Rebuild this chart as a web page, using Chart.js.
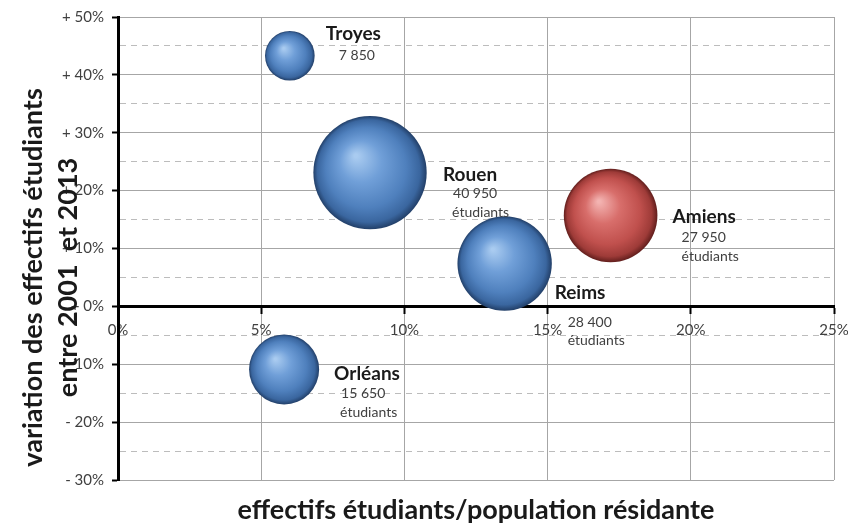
<!DOCTYPE html>
<html lang="fr">
<head>
<meta charset="utf-8">
<title>Effectifs étudiants</title>
<script src="https://cdn.jsdelivr.net/npm/chart.js@4/dist/chart.umd.min.js"></script>
<style>
  html, body { margin: 0; padding: 0; background: #fff; }
  #wrap { width: 848px; height: 526px; position: relative; }
</style>
</head>
<body>
<div id="wrap"><canvas id="bubbleChart"></canvas></div>
<script>
// ============================================================
// Data
// ============================================================
const CITIES = ['Troyes', 'Rouen', 'Reims', 'Amiens', 'Orléans'];
const STUDENT_SHARE = [6.0, 8.8, 13.5, 17.2, 5.8];       // % of resident population
const STUDENT_GROWTH = [43.3, 23.1, 7.4, 15.7, -10.9];   // % change 2001 -> 2013
const STUDENT_COUNTS = [7850, 40950, 28400, 27950, 15650];
const SHOW_UNIT = [false, true, true, true, true];        // Troyes has no "étudiants" line
const HIGHLIGHTED = [false, false, false, true, false];   // Amiens drawn in red

const X_TICKS = [0, 5, 10, 15, 20, 25];
const Y_TICKS = [-30, -20, -10, 0, 10, 20, 30, 40, 50];

// ============================================================
// Styling
// ============================================================
const FONT = 'Lato, "Open Sans", sans-serif';
const TEXT_DARK = '#1a1a1a';
const TEXT_GREY = '#404040';
const BUBBLE_SCALE = 0.28; // px of radius per sqrt(student)

const SPHERE = {
  blue: ['#a9cbf0', '#709fd8', '#4f80bd', '#3a669f', '#223f68'],
  red:  ['#f3b3b1', '#d86e6b', '#c0504d', '#9e3b38', '#611e1c']
};

// Label offsets from bubble centre, in px: [dx, dy]
const LABEL_OFFSETS = [
  { name: [36, -22], count: [49, 0], unit: [49, 19] },
  { name: [73, 2], count: [83, 21], unit: [82, 40] },
  { name: [50, 29], count: [63, 59], unit: [63, 77] },
  { name: [62, 1], count: [71, 22], unit: [71, 41] },
  { name: [50, 4], count: [57, 24], unit: [56, 43] }
];

Chart.defaults.font.family = FONT;

const formatCount = (n) => String(n).replace(/\B(?=(\d{3})+(?!\d))/g, ' ');
const formatGrowth = (v) => (v >= 0 ? '+ ' : '- ') + Math.abs(v) + '%';

// Radial gradient that fakes the glossy 3D sphere look
function sphereFill(ctx) {
  const palette = HIGHLIGHTED[ctx.dataIndex] ? SPHERE.red : SPHERE.blue;
  const chart = ctx.chart;
  if (ctx.type !== 'data' || !chart.chartArea) return palette[2];
  const cx = chart.scales.x.getPixelForValue(ctx.raw.x);
  const cy = chart.scales.y.getPixelForValue(ctx.raw.y);
  const r = ctx.raw.r;
  const g = chart.ctx.createRadialGradient(cx - r * 0.25, cy - r * 0.3, r * 0.03, cx, cy, r);
  g.addColorStop(0, palette[0]);
  g.addColorStop(0.35, palette[1]);
  g.addColorStop(0.7, palette[2]);
  g.addColorStop(0.9, palette[3]);
  g.addColorStop(1, palette[4]);
  return g;
}

// City names + student counts next to each bubble
const cityLabelsPlugin = {
  id: 'cityLabels',
  afterDatasetsDraw(chart) {
    const { ctx } = chart;
    const meta = chart.getDatasetMeta(0);
    ctx.save();
    ctx.textAlign = 'left';
    ctx.textBaseline = 'middle';
    meta.data.forEach((pt, i) => {
      const off = LABEL_OFFSETS[i];
      ctx.fillStyle = TEXT_DARK;
      ctx.font = `bold 19px ${FONT}`;
      ctx.fillText(CITIES[i], pt.x + off.name[0], pt.y + off.name[1]);
      ctx.fillStyle = TEXT_GREY;
      ctx.font = `14px ${FONT}`;
      ctx.fillText(formatCount(STUDENT_COUNTS[i]), pt.x + off.count[0], pt.y + off.count[1]);
      if (SHOW_UNIT[i]) ctx.fillText('étudiants', pt.x + off.unit[0], pt.y + off.unit[1]);
    });
    ctx.restore();
  }
};

// Rotated two-line y title, overlapping the tick labels like the original
const yTitlePlugin = {
  id: 'yTitle',
  afterDraw(chart) {
    const { ctx, chartArea } = chart;
    const cy = (chartArea.top + chartArea.bottom) / 2 + 29;
    ctx.save();
    ctx.translate(chartArea.left - 85, cy);
    ctx.rotate(-Math.PI / 2);
    ctx.textAlign = 'center';
    ctx.textBaseline = 'middle';
    ctx.fillStyle = TEXT_DARK;
    ctx.font = `bold 27px ${FONT}`;
    ctx.fillText('variation des effectifs étudiants', 0, 0);
    ctx.fillText('entre 2001  et 2013', 0, 35);
    ctx.restore();
  }
};

// Keep the plot area fixed: no extra room for overflowing edge labels
const noLabelPadding = (s) => { s.paddingLeft = 0; s.paddingRight = 0; };

new Chart(document.getElementById('bubbleChart'), {
  type: 'bubble',
  data: {
    datasets: [{
      data: CITIES.map((c, i) => ({
        x: STUDENT_SHARE[i],
        y: STUDENT_GROWTH[i],
        r: Math.sqrt(STUDENT_COUNTS[i]) * BUBBLE_SCALE
      })),
      backgroundColor: sphereFill,
      borderWidth: 0
    }]
  },
  options: {
    responsive: true,
    maintainAspectRatio: false,
    animation: false,
    layout: { autoPadding: false, padding: { top: 17, right: 14, left: 0, bottom: 0 } },
    plugins: { legend: { display: false }, tooltip: { enabled: false } },
    scales: {
      x: {
        type: 'linear',
        position: 'bottom',
        min: X_TICKS[0],
        max: X_TICKS[X_TICKS.length - 1],
        afterBuildTicks: (s) => { s.ticks = X_TICKS.map((v) => ({ value: v })); },
        afterFit: (s) => { s.height = 46; noLabelPadding(s); },
        ticks: { display: false },
        grid: { color: '#a6a6a6', lineWidth: 1, drawTicks: false },
        border: { display: false },
        title: {
          display: true,
          text: 'effectifs étudiants/population résidante',
          color: TEXT_DARK,
          font: { size: 27, weight: 'bold' },
          padding: { top: 0, bottom: 0 }
        }
      },
      xZero: {
        type: 'linear',
        axis: 'x',
        position: { y: 0 },
        min: X_TICKS[0],
        max: X_TICKS[X_TICKS.length - 1],
        afterBuildTicks: (s) => { s.ticks = X_TICKS.map((v) => ({ value: v })); },
        afterFit: (s) => { s.height = 0; noLabelPadding(s); },
        ticks: {
          callback: (v) => v + '%',
          color: TEXT_GREY,
          font: { size: 15 },
          padding: 9,
          maxRotation: 0
        },
        grid: { drawOnChartArea: false, tickLength: 6, tickColor: '#000', tickWidth: 2 },
        border: { color: '#000', width: 3 }
      },
      y: {
        min: Y_TICKS[0],
        max: Y_TICKS[Y_TICKS.length - 1],
        afterFit: (s) => { s.width = 118; },
        ticks: {
          stepSize: 5,
          autoSkip: false,
          callback: (v) => (Y_TICKS.includes(v) ? formatGrowth(v) : ''),
          color: TEXT_GREY,
          font: { size: 15 },
          padding: 8
        },
        grid: {
          color: (ctx) => {
            const v = ctx.tick.value;
            if (v === 0) return 'rgba(0,0,0,0)';
            return Y_TICKS.includes(v) ? '#a6a6a6' : '#bcbcbc';
          },
          lineWidth: 1,
          tickLength: 6,
          tickWidth: 2,
          tickColor: (ctx) => (Y_TICKS.includes(ctx.tick.value) ? '#000' : 'rgba(0,0,0,0)')
        },
        border: {
          color: '#000',
          width: 3,
          dash: (ctx) => (ctx.tick && !Y_TICKS.includes(ctx.tick.value) ? [6, 5] : [])
        }
      }
    }
  },
  plugins: [cityLabelsPlugin, yTitlePlugin]
});
</script>
</body>
</html>
